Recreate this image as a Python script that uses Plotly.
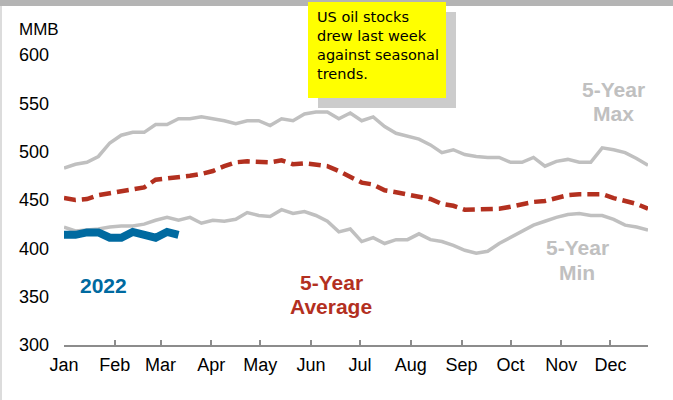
import pandas as pd
import plotly.graph_objects as go

# ---- data (weekly, MMB) ----
weeks = pd.date_range("2022-01-01", periods=52, freq="7D")

max5 = [483, 487, 489, 495, 509, 517, 520, 520, 528, 528,
        534, 534, 536, 534, 532, 529, 532, 532, 527, 534,
        532, 539, 541, 541, 534, 540, 532, 536, 526, 519,
        516, 513, 507, 499, 502, 497, 495, 494, 494, 489,
        489, 494, 485, 490, 492, 489, 489, 504, 502, 499,
        493, 486]

min5 = [422, 418, 419, 420, 422, 423, 423, 425, 429, 432,
        429, 432, 426, 429, 428, 430, 437, 434, 433, 440,
        436, 438, 434, 428, 417, 420, 407, 411, 405, 409,
        409, 415, 409, 407, 403, 398, 395, 397, 405, 411,
        418, 424, 428, 432, 435, 436, 434, 434, 430, 424,
        422, 419]

avg5 = [452, 450, 451, 455, 457, 459, 460, 463, 471, 472,
        473, 475, 477, 480, 485, 489, 490, 490, 489, 491,
        487, 488, 487, 485, 480, 474, 468, 466, 460, 458,
        456, 454, 451, 446, 444, 440, 440, 440, 441, 443,
        446, 448, 449, 452, 455, 456, 456, 456, 452, 449,
        446, 441]

y2022 = [414, 414, 416.5, 416.5, 411, 411, 417, 414, 411, 417, 414]

y_ticks = [300, 350, 400, 450, 500, 550, 600]

# ---- layout geometry helpers (pixel -> paper) ----
W, H = 673, 400
L, R, T, B = 64, 25, 55, 55
PW, PH = W - L - R, H - T - B


def px(x):
    return (x - L) / PW


def py(y):
    return (H - B - y) / PH


GRAY = "#c0c0c0"
RED = "#b3301f"
BLUE = "#006aa0"

fig = go.Figure()
fig.add_trace(go.Scatter(x=weeks, y=max5, mode="lines",
                         line=dict(color=GRAY, width=3.5), hoverinfo="skip"))
fig.add_trace(go.Scatter(x=weeks, y=min5, mode="lines",
                         line=dict(color=GRAY, width=3.5), hoverinfo="skip"))
fig.add_trace(go.Scatter(x=weeks, y=avg5, mode="lines",
                         line=dict(color=RED, width=4.5, dash="12px,6px"),
                         hoverinfo="skip"))
fig.add_trace(go.Scatter(x=weeks[:len(y2022)], y=y2022, mode="lines",
                         line=dict(color=BLUE, width=8), hoverinfo="skip"))

shapes = [
    # top gray bar
    dict(type="rect", xref="paper", yref="paper", x0=px(0), x1=px(W),
         y0=py(0), y1=py(6), fillcolor="#b4b4b4", line=dict(width=0), layer="below"),
    # left border
    dict(type="rect", xref="paper", yref="paper", x0=px(0), x1=px(2),
         y0=py(6), y1=py(H), fillcolor="#dcdcdc", line=dict(width=0), layer="below"),
    # shadow of note
    dict(type="rect", xref="paper", yref="paper", x0=px(318), x1=px(456),
         y0=py(12), y1=py(108), fillcolor="#cccccc", line=dict(width=0), layer="below"),
    # yellow note
    dict(type="rect", xref="paper", yref="paper", x0=px(308), x1=px(446),
         y0=py(2), y1=py(98), fillcolor="#ffff00", line=dict(width=0), layer="below"),
]

ann = []


def label(text, x, y, color, size=21, bold=True, xanchor="center"):
    ann.append(dict(text=("<b>%s</b>" % text) if bold else text,
                    xref="paper", yref="paper", x=px(x), y=py(y),
                    xanchor=xanchor, yanchor="middle", showarrow=False,
                    font=dict(family="Liberation Sans, Arial", size=size, color=color)))


label("2022", 103.5, 285, BLUE)
label("5-Year", 331, 282, RED)
label("Average", 331, 306, RED)
label("5-Year", 613, 89, GRAY)
label("Max", 613, 114, GRAY)
label("5-Year", 577, 247.5, GRAY)
label("Min", 577, 272.5, GRAY)
label("MMB", 17, 29, "#000000", size=17, bold=False, xanchor="left")

ann.append(dict(text="US oil stocks<br>drew last week<br>against seasonal<br>trends.",
                xref="paper", yref="paper", x=px(315), y=py(7),
                xanchor="left", yanchor="top", align="left", showarrow=False,
                font=dict(family="DejaVu Sans", size=14.5, color="#000000")))

fig.update_layout(
    width=W, height=H,
    margin=dict(l=L, r=R, t=T, b=B),
    paper_bgcolor="white", plot_bgcolor="white",
    showlegend=False,
    shapes=shapes, annotations=ann,
    font=dict(family="Liberation Sans, Arial", size=18, color="#000000"),
)
fig.update_xaxes(
    type="date", range=[weeks[0], weeks[-1]],
    tick0="2022-01-01", dtick="M1", tickformat="%b",
    ticks="inside", ticklen=5, tickwidth=2, tickcolor="#8c8c8c",
    showline=True, linecolor="#8c8c8c", linewidth=2,
    showgrid=False, zeroline=False,
    tickfont=dict(size=18), ticklabelstandoff=2,
)
fig.update_yaxes(
    range=[300, 600], tickvals=y_ticks, ticktext=[str(v) for v in y_ticks],
    showline=False, showgrid=False, zeroline=False, ticks="",
    tickfont=dict(size=18), ticklabelstandoff=14,
)

fig.write_html("out.html", config={"displayModeBar": False},
               post_script="document.body.style.margin='0';document.body.style.overflow='hidden';")
